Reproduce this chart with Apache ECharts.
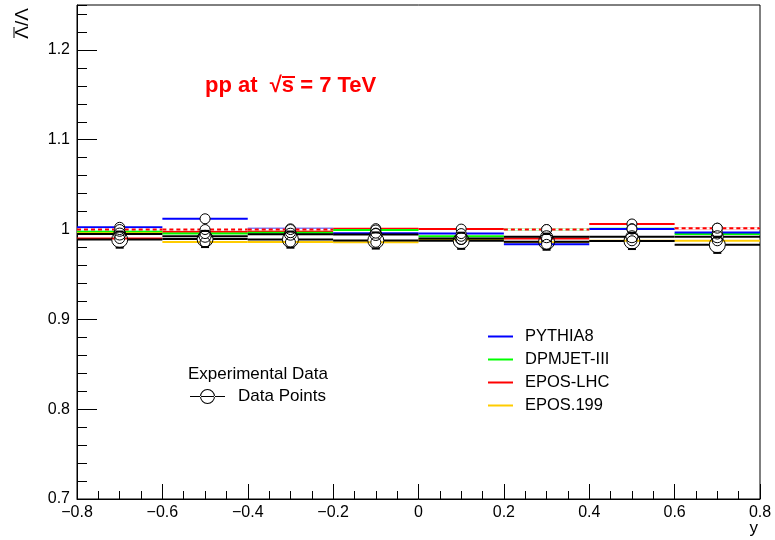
<!DOCTYPE html>
<html>
<head>
<meta charset="utf-8">
<script src="https://cdn.jsdelivr.net/npm/echarts@6/dist/echarts.min.js"></script>
<style>
  html, body { margin: 0; padding: 0; background: #ffffff; }
  #chart { width: 775px; height: 540px; }
</style>
</head>
<body>
<div id="chart"></div>
<script>
// Rapidity bins: centres and half-width (x error)
const binCenters = [-0.7, -0.5, -0.3, -0.1, 0.1, 0.3, 0.5, 0.7];
const binHalfWidth = 0.1;

// anti-Lambda / Lambda ratio per rapidity bin
const pythia8     = [1.0025, 1.012, 1.0008, 0.996, 0.9955, 0.9835, 1.0005, 0.9966];
const pythia8Err  = [0.004, 0.004, 0.004, 0.004, 0.004, 0.004, 0.004, 0.004];
const dpmjet      = [0.998, 0.9955, 0.9965, 0.9995, 0.9925, 1.0, 1.001, 0.995];
const dpmjetErr   = [0.004, 0.004, 0.004, 0.004, 0.004, 0.004, 0.004, 0.004];
const eposLhc     = [0.990, 0.9975, 0.998, 1.001, 1.0005, 0.990, 1.0062, 1.0015];
const eposLhcErr  = [0.004, 0.004, 0.004, 0.004, 0.004, 0.004, 0.004, 0.004];
const eposLhcAlt  = [1.0, 1.0, 1.0, null, null, 1.0, null, 1.0015];
const epos199     = [0.9965, 0.986, 0.986, 0.9858, 0.989, 0.9858, 0.9875, 0.9875];
const epos199Err  = [0.004, 0.004, 0.004, 0.004, 0.004, 0.004, 0.004, 0.004];
const dataAlt     = [0.995, 0.9925, 0.9948, 0.9945, 0.990, 0.992, 0.992, 0.992];
const dataAltErr  = [0.005, 0.005, 0.005, 0.005, 0.005, 0.005, 0.005, 0.005];
const dataPoints  = [0.9888, 0.9895, 0.9888, 0.9878, 0.9875, 0.9865, 0.9873, 0.983];
const dataErr     = [0.009, 0.009, 0.009, 0.009, 0.009, 0.009, 0.009, 0.009];

const xTicks = { min: -0.8, max: 0.8, step: 0.2 };
const yTicks = { min: 0.7, max: 1.25, step: 0.1, minorStep: 0.02 };

function rows(values, errs) {
  const out = [];
  values.forEach(function (v, i) {
    if (v !== null) out.push([binCenters[i], v, errs ? errs[i] : 0]);
  });
  return out;
}

// Draws a graph point: horizontal bin-width bar, vertical error bar and open marker
function pointRenderer(opts) {
  return function (params, api) {
    const x = api.value(0), y = api.value(1), e = api.value(2);
    const c = api.coord([x, y]);
    const l = api.coord([x - binHalfWidth, y]);
    const r = api.coord([x + binHalfWidth, y]);
    const t = api.coord([x, y + e]);
    const b = api.coord([x, y - e]);
    const R = opts.radius;
    const lineStyle = { stroke: opts.color, lineWidth: opts.width, lineDash: opts.dash || null };
    const kids = [];
    if (opts.dash) {
      kids.push({ type: 'line', shape: { x1: l[0], y1: c[1], x2: r[0], y2: c[1] },
        style: { stroke: '#ffffff', lineWidth: opts.width } });
    }
    kids.push({ type: 'line', shape: { x1: l[0], y1: c[1], x2: c[0] - R, y2: c[1] }, style: lineStyle });
    kids.push({ type: 'line', shape: { x1: c[0] + R, y1: c[1], x2: r[0], y2: c[1] }, style: lineStyle });
    if (e > 0 && t[1] < c[1] - R) {
      const es = { stroke: opts.errColor, lineWidth: opts.errWidth };
      kids.push({ type: 'line', shape: { x1: c[0], y1: t[1], x2: c[0], y2: c[1] - R }, style: es });
      kids.push({ type: 'line', shape: { x1: c[0], y1: c[1] + R, x2: c[0], y2: b[1] }, style: es });
      if (opts.cap) {
        kids.push({ type: 'line', shape: { x1: c[0] - opts.cap, y1: t[1], x2: c[0] + opts.cap, y2: t[1] }, style: es });
        kids.push({ type: 'line', shape: { x1: c[0] - opts.cap, y1: b[1], x2: c[0] + opts.cap, y2: b[1] }, style: es });
      }
    }
    kids.push({ type: 'circle', shape: { cx: c[0], cy: c[1], r: R },
      style: { fill: opts.fill, stroke: '#000000', lineWidth: 1 } });
    return { type: 'group', children: kids };
  };
}

function graphSeries(name, values, errs, opts, z) {
  return {
    name: name, type: 'custom', z: z,
    renderItem: pointRenderer(opts),
    data: rows(values, errs),
    encode: { x: 0, y: 1 },
    silent: true
  };
}

// Empty line series that only give the legend its line icons
function legendLine(name, color) {
  return { name: name, type: 'line', data: [], symbol: 'none', lineStyle: { color: color, width: 2 }, itemStyle: { color: color } };
}

const BLUE = '#0000ff', GREEN = '#00ff00', RED = '#ff0000', YELLOW = '#ffcc00', BLACK = '#000000';
const FONT = '"Liberation Sans", Arial, Helvetica, sans-serif';

const chart = echarts.init(document.getElementById('chart'), null, { renderer: 'canvas' });

const option = {
  animation: false,
  backgroundColor: '#ffffff',
  grid: { left: 77, right: 15, top: 5, bottom: 41, show: true, borderColor: '#000', borderWidth: 1, backgroundColor: 'transparent' },
  xAxis: [{
    type: 'value', min: xTicks.min, max: xTicks.max, interval: xTicks.step,
    axisLine: { show: true, onZero: false, lineStyle: { color: '#000', width: 1 } },
    axisTick: { show: true, inside: true, length: 15, lineStyle: { color: '#000' } },
    minorTick: { show: true, splitNumber: 4, length: 8, lineStyle: { color: '#000' } },
    splitLine: { show: false },
    axisLabel: { color: '#000', fontSize: 16, fontFamily: FONT, margin: 6,
      formatter: function (v) { return String(Math.round(v * 10) / 10).replace('-', '\u2212'); } }
  }],
  yAxis: [{
    type: 'value', position: 'left', min: yTicks.min, max: yTicks.max, interval: yTicks.step,
    axisLine: { show: true, onZero: false, lineStyle: { color: '#000', width: 1 } },
    axisTick: { show: true, inside: true, length: 20, lineStyle: { color: '#000' } },
    splitLine: { show: false },
    axisLabel: { color: '#000', fontSize: 16, fontFamily: FONT, margin: 7, showMaxLabel: false,
      formatter: function (v) { return String(Math.round(v * 10) / 10); } }
  }, {
    // finer division ticks on the same scale
    type: 'value', position: 'left', offset: 0, min: yTicks.min, max: yTicks.max, interval: yTicks.minorStep,
    axisLine: { show: false, onZero: false }, axisLabel: { show: false }, splitLine: { show: false },
    axisTick: { show: true, inside: true, length: 10, lineStyle: { color: '#000' } }
  }],
  legend: [{
    data: ['PYTHIA8', 'DPMJET-III', 'EPOS-LHC', 'EPOS.199'],
    orient: 'vertical', left: 488, top: 328, padding: 0,
    icon: 'rect', itemWidth: 25, itemHeight: 2, itemGap: 6,
    textStyle: { color: '#000', fontSize: 16.5, fontFamily: FONT, lineHeight: 17, padding: [0, 0, 0, 7] },
    selectedMode: false
  }, {
    data: ['Data Points'],
    orient: 'vertical', left: 190, top: 388, padding: 0,
    icon: 'path://M0,7.5H35V8.5H0Z M10,8A7.5,7.5 0 1,0 25,8A7.5,7.5 0 1,0 10,8Z M11,8A6.5,6.5 0 1,1 24,8A6.5,6.5 0 1,1 11,8Z',
    itemWidth: 35, itemHeight: 16,
    textStyle: { color: '#000', fontSize: 17, fontFamily: FONT, padding: [0, 0, 0, 8] },
    selectedMode: false
  }],
  graphic: [
    { type: 'text', left: 188, top: 366, style: { text: 'Experimental Data', fill: '#000', font: '17px ' + FONT } },
    // axis title: anti-Lambda over Lambda, written upwards
    { type: 'text', x: 23, y: 8, rotation: Math.PI / 2, style: { text: '\u039B/\u039B', fill: '#000', font: '19px ' + FONT, align: 'right', verticalAlign: 'middle' } },
    { type: 'line', shape: { x1: 14, y1: 27, x2: 14, y2: 38 }, style: { stroke: '#000', lineWidth: 1 } },
    { type: 'text', right: 17, top: 520, style: { text: 'y', fill: '#000', font: '17px ' + FONT } },
    { type: 'text', left: 205, top: 75, style: { text: 'pp at  \u221As = 7 TeV', fill: RED, font: 'bold 22px ' + FONT } },
    { type: 'line', shape: { x1: 282, y1: 77, x2: 295, y2: 77 }, style: { stroke: RED, lineWidth: 2 } }
  ],
  series: [
    legendLine('PYTHIA8', BLUE),
    legendLine('DPMJET-III', GREEN),
    legendLine('EPOS-LHC', RED),
    legendLine('EPOS.199', YELLOW),
    { name: 'Data Points', type: 'line', data: [], symbol: 'none', lineStyle: { color: BLACK, width: 2 }, itemStyle: { color: BLACK } },
    graphSeries('EPOS.199 pts', epos199, epos199Err, { color: YELLOW, width: 2, radius: 5, fill: '#ffffff', errColor: YELLOW, errWidth: 2 }, 2),
    graphSeries('EPOS-LHC pts', eposLhc, eposLhcErr, { color: RED, width: 2, radius: 5, fill: '#ffffff', errColor: RED, errWidth: 2 }, 3),
    graphSeries('DPMJET-III pts', dpmjet, dpmjetErr, { color: GREEN, width: 2, radius: 5, fill: '#ffffff', errColor: GREEN, errWidth: 2 }, 4),
    graphSeries('PYTHIA8 pts', pythia8, pythia8Err, { color: BLUE, width: 2, radius: 5, fill: '#ffffff', errColor: BLUE, errWidth: 2 }, 5),
    graphSeries('EPOS-LHC alt', eposLhcAlt, null, { color: RED, width: 2, radius: 5, fill: '#ffffff', dash: [4, 3], errColor: RED, errWidth: 2 }, 6),
    graphSeries('Data alt', dataAlt, dataAltErr, { color: BLACK, width: 2, radius: 6, fill: 'transparent', errColor: BLACK, errWidth: 2, cap: 3 }, 7),
    graphSeries('Data', dataPoints, dataErr, { color: BLACK, width: 2, radius: 8, fill: 'transparent', errColor: BLACK, errWidth: 2, cap: 4 }, 8)
  ]
};

chart.setOption(option);
</script>
</body>
</html>
